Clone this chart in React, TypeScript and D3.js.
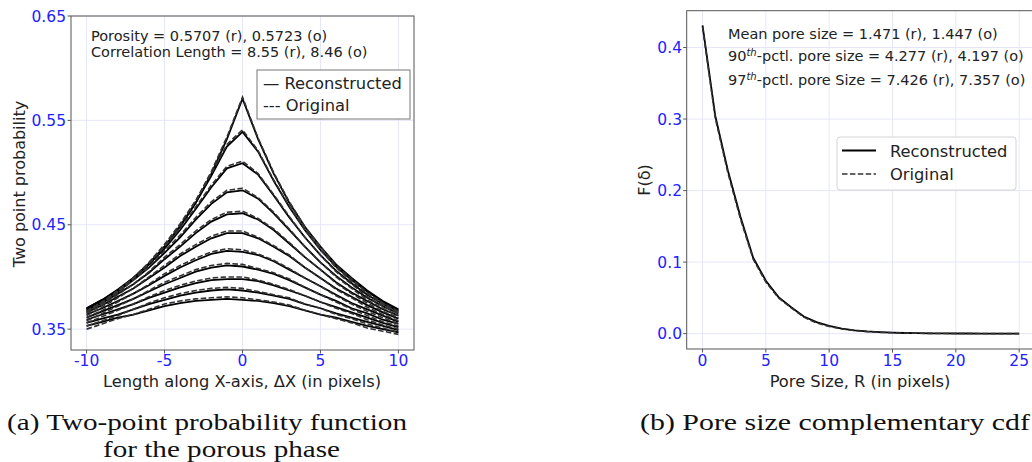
import React from 'react';
import * as d3 from 'd3';

// ---------- Data: (a) two-point probability ----------
const DX = [-10, -9, -8, -7, -6, -5, -4, -3, -2, -1, 0, 1, 2, 3, 4, 5, 6, 7, 8, 9, 10];

const S2_RECON: number[][] = [
  [0.369, 0.377, 0.387, 0.399, 0.412, 0.429, 0.448, 0.471, 0.499, 0.532, 0.5707, 0.532, 0.499, 0.471, 0.448, 0.429, 0.412, 0.399, 0.387, 0.377, 0.369],
  [0.370, 0.378, 0.388, 0.399, 0.413, 0.429, 0.449, 0.471, 0.497, 0.525, 0.539, 0.520, 0.492, 0.467, 0.445, 0.426, 0.410, 0.397, 0.386, 0.376, 0.368],
  [0.370, 0.378, 0.387, 0.399, 0.412, 0.427, 0.445, 0.465, 0.486, 0.504, 0.509, 0.498, 0.478, 0.457, 0.438, 0.421, 0.406, 0.394, 0.383, 0.374, 0.367],
  [0.369, 0.377, 0.386, 0.397, 0.409, 0.423, 0.438, 0.455, 0.470, 0.481, 0.483, 0.475, 0.461, 0.445, 0.429, 0.414, 0.401, 0.390, 0.380, 0.372, 0.365],
  [0.368, 0.375, 0.384, 0.393, 0.404, 0.417, 0.429, 0.442, 0.453, 0.460, 0.461, 0.455, 0.445, 0.432, 0.419, 0.407, 0.395, 0.385, 0.377, 0.369, 0.363],
  [0.366, 0.373, 0.381, 0.389, 0.399, 0.409, 0.420, 0.429, 0.437, 0.442, 0.442, 0.437, 0.429, 0.420, 0.409, 0.399, 0.389, 0.381, 0.373, 0.366, 0.360],
  [0.364, 0.370, 0.377, 0.384, 0.392, 0.401, 0.409, 0.416, 0.422, 0.425, 0.424, 0.421, 0.415, 0.407, 0.399, 0.391, 0.383, 0.375, 0.369, 0.363, 0.357],
  [0.361, 0.367, 0.373, 0.379, 0.386, 0.393, 0.399, 0.405, 0.409, 0.411, 0.410, 0.407, 0.403, 0.397, 0.390, 0.383, 0.377, 0.370, 0.365, 0.359, 0.355],
  [0.359, 0.364, 0.369, 0.374, 0.380, 0.385, 0.390, 0.394, 0.397, 0.398, 0.398, 0.396, 0.392, 0.387, 0.382, 0.376, 0.371, 0.366, 0.361, 0.356, 0.352],
  [0.356, 0.360, 0.364, 0.369, 0.374, 0.378, 0.382, 0.385, 0.387, 0.388, 0.387, 0.385, 0.382, 0.379, 0.374, 0.370, 0.365, 0.361, 0.357, 0.353, 0.349],
  [0.353, 0.357, 0.361, 0.364, 0.368, 0.372, 0.375, 0.377, 0.378, 0.379, 0.378, 0.377, 0.375, 0.372, 0.368, 0.364, 0.361, 0.357, 0.353, 0.350, 0.347],
];

const S2_ORIG: number[][] = [
  [0.367, 0.376, 0.386, 0.399, 0.413, 0.431, 0.450, 0.473, 0.501, 0.534, 0.5723, 0.533, 0.500, 0.472, 0.448, 0.429, 0.411, 0.398, 0.385, 0.375, 0.367],
  [0.367, 0.376, 0.387, 0.399, 0.414, 0.431, 0.451, 0.473, 0.499, 0.527, 0.541, 0.521, 0.493, 0.468, 0.445, 0.426, 0.409, 0.396, 0.384, 0.374, 0.366],
  [0.367, 0.376, 0.386, 0.399, 0.413, 0.429, 0.447, 0.467, 0.488, 0.506, 0.511, 0.499, 0.479, 0.458, 0.438, 0.421, 0.405, 0.393, 0.381, 0.372, 0.365],
  [0.366, 0.375, 0.385, 0.397, 0.410, 0.425, 0.440, 0.457, 0.472, 0.483, 0.485, 0.476, 0.462, 0.446, 0.429, 0.414, 0.400, 0.389, 0.378, 0.370, 0.363],
  [0.365, 0.373, 0.383, 0.393, 0.405, 0.419, 0.431, 0.444, 0.455, 0.462, 0.463, 0.456, 0.446, 0.433, 0.419, 0.407, 0.394, 0.384, 0.375, 0.367, 0.361],
  [0.363, 0.371, 0.380, 0.389, 0.400, 0.411, 0.422, 0.431, 0.439, 0.444, 0.444, 0.438, 0.430, 0.421, 0.409, 0.399, 0.388, 0.380, 0.371, 0.364, 0.358],
  [0.361, 0.368, 0.376, 0.384, 0.393, 0.403, 0.411, 0.418, 0.424, 0.427, 0.426, 0.422, 0.416, 0.408, 0.399, 0.391, 0.382, 0.374, 0.367, 0.361, 0.355],
  [0.358, 0.365, 0.372, 0.379, 0.387, 0.395, 0.401, 0.407, 0.411, 0.413, 0.412, 0.408, 0.404, 0.398, 0.390, 0.383, 0.376, 0.369, 0.363, 0.357, 0.353],
  [0.356, 0.362, 0.368, 0.374, 0.381, 0.387, 0.392, 0.396, 0.399, 0.400, 0.400, 0.397, 0.393, 0.388, 0.382, 0.376, 0.370, 0.365, 0.359, 0.354, 0.350],
  [0.353, 0.358, 0.363, 0.369, 0.375, 0.380, 0.384, 0.387, 0.389, 0.390, 0.389, 0.386, 0.383, 0.380, 0.374, 0.370, 0.364, 0.360, 0.355, 0.351, 0.347],
  [0.350, 0.355, 0.360, 0.364, 0.369, 0.374, 0.377, 0.379, 0.380, 0.381, 0.380, 0.378, 0.376, 0.373, 0.368, 0.364, 0.360, 0.356, 0.351, 0.348, 0.345],
];

const A_XTICKS = [-10, -5, 0, 5, 10];
const A_YTICKS = [0.35, 0.45, 0.55, 0.65];

// ---------- Data: (b) pore size complementary cdf ----------
const R = [0, 1, 2, 3, 4, 5, 6, 7, 8, 9, 10, 11, 12, 13, 14, 15, 16, 17, 18, 19, 20, 21, 22, 23, 24, 25];
const F_RECON = [0.431, 0.305, 0.228, 0.163, 0.106, 0.074, 0.051, 0.037, 0.024, 0.016, 0.011, 0.007, 0.0045, 0.003, 0.002, 0.0013, 0.0009, 0.0006, 0.0004, 0.0003, 0.0002, 0.00015, 0.0001, 0.00008, 0.00005, 0.00003];
const F_ORIG = [0.429, 0.302, 0.225, 0.160, 0.104, 0.072, 0.050, 0.036, 0.023, 0.015, 0.010, 0.0065, 0.0042, 0.0028, 0.0018, 0.0012, 0.0008, 0.0005, 0.0003, 0.0002, 0.00015, 0.0001, 0.00008, 0.00005, 0.00003, 0.00002];
const B_XTICKS = [0, 5, 10, 15, 20, 25];
const B_YTICKS = [0, 0.1, 0.2, 0.3, 0.4];

const FONT = 'DejaVu Sans, sans-serif';
const SERIF = 'Liberation Serif, DejaVu Serif, serif';
const TICK_BLUE = '#2222ff';
const GRID = '#e6e6fb';
const SPINE = '#555';

export default function App() {
  // panel (a) scales
  const ax = d3.scaleLinear().domain([-11, 11]).range([71, 414]);
  const ay = d3.scaleLinear().domain([0.33, 0.65]).range([350, 16]);
  // panel (b) scales
  const bx = d3.scaleLinear().domain([-1.25, 26.25]).range([686.7, 1035]);
  const by = d3.scaleLinear().domain([-0.0215, 0.4515]).range([349, 10.7]);

  const lineA = d3.line<number>().x((_, i) => ax(DX[i])).y((d) => ay(d));
  const lineB = d3.line<number>().x((_, i) => bx(R[i])).y((d) => by(d));

  return (
    <svg
      width={1032}
      height={462}
      style={{ position: 'absolute', left: 0, top: 0, background: '#fff' }}
      fontFamily={FONT}
    >
      <defs>
        <clipPath id="clipA">
          <rect x={71} y={16} width={343} height={334} />
        </clipPath>
        <clipPath id="clipB">
          <rect x={686.7} y={10.7} width={348.3} height={338.3} />
        </clipPath>
      </defs>

      {/* ================= Panel (a) ================= */}
      <g>
        {A_XTICKS.map((t) => (
          <line key={'agx' + t} x1={ax(t)} x2={ax(t)} y1={16} y2={350} stroke={GRID} strokeWidth={1} />
        ))}
        {A_YTICKS.map((t) => (
          <line key={'agy' + t} x1={71} x2={414} y1={ay(t)} y2={ay(t)} stroke={GRID} strokeWidth={1} />
        ))}
        <g clipPath="url(#clipA)">
          {S2_RECON.map((s, i) => (
            <path key={'ar' + i} d={lineA(s) || ''} fill="none" stroke="#000" strokeWidth={1.8} />
          ))}
          {S2_ORIG.map((s, i) => (
            <path key={'ao' + i} d={lineA(s) || ''} fill="none" stroke="#333" strokeWidth={1.6} strokeDasharray="5.5,2.4" />
          ))}
        </g>
        <rect x={71} y={16} width={343} height={334} fill="none" stroke={SPINE} strokeWidth={1} />
        {A_XTICKS.map((t) => (
          <g key={'axt' + t}>
            <line x1={ax(t)} x2={ax(t)} y1={350} y2={353.5} stroke={SPINE} />
            <text x={ax(t)} y={366} textAnchor="middle" fontSize={15.5} fill={TICK_BLUE}>
              {t}
            </text>
          </g>
        ))}
        {A_YTICKS.map((t) => (
          <g key={'ayt' + t}>
            <line x1={67.5} x2={71} y1={ay(t)} y2={ay(t)} stroke={SPINE} />
            <text x={66} y={ay(t) + 5.5} textAnchor="end" fontSize={15.5} fill={TICK_BLUE}>
              {d3.format('.2f')(t)}
            </text>
          </g>
        ))}
        <text x={242} y={386.5} textAnchor="middle" fontSize={16.3} fill="#222">
          Length along X-axis, ΔX (in pixels)
        </text>
        <text transform="translate(25,184) rotate(-90)" textAnchor="middle" fontSize={16} fill="#222">
          Two point probability
        </text>
        <text x={91} y={41} fontSize={14.5} fill="#222">
          Porosity = 0.5707 (r), 0.5723 (o)
        </text>
        <text x={91} y={57} fontSize={14.5} fill="#222">
          Correlation Length = 8.55 (r), 8.46 (o)
        </text>
        <rect x={257} y={70} width={153} height={49} fill="#fff" stroke="#777" strokeWidth={1} />
        <text x={263} y={89} fontSize={16.3} fill="#222">
          — Reconstructed
        </text>
        <text x={263} y={111} fontSize={16.3} fill="#222">
          --- Original
        </text>
      </g>

      {/* ================= Panel (b) ================= */}
      <g>
        {B_XTICKS.map((t) => (
          <line key={'bgx' + t} x1={bx(t)} x2={bx(t)} y1={10.7} y2={349} stroke={GRID} strokeWidth={1} />
        ))}
        {B_YTICKS.map((t) => (
          <line key={'bgy' + t} x1={686.7} x2={1035} y1={by(t)} y2={by(t)} stroke={GRID} strokeWidth={1} />
        ))}
        <g clipPath="url(#clipB)">
          <path d={lineB(F_RECON) || ''} fill="none" stroke="#000" strokeWidth={1.8} />
          <path d={lineB(F_ORIG) || ''} fill="none" stroke="#333" strokeWidth={1.6} strokeDasharray="5.5,2.4" />
        </g>
        <rect x={686.7} y={10.7} width={348.3} height={338.3} fill="none" stroke={SPINE} strokeWidth={1} />
        {B_XTICKS.map((t) => (
          <g key={'bxt' + t}>
            <line x1={bx(t)} x2={bx(t)} y1={349} y2={352.5} stroke={SPINE} />
            <text x={bx(t)} y={366} textAnchor="middle" fontSize={15.5} fill={TICK_BLUE}>
              {t}
            </text>
          </g>
        ))}
        {B_YTICKS.map((t) => (
          <g key={'byt' + t}>
            <line x1={683.2} x2={686.7} y1={by(t)} y2={by(t)} stroke={SPINE} />
            <text x={682} y={by(t) + 5.5} textAnchor="end" fontSize={15.5} fill={TICK_BLUE}>
              {d3.format('.1f')(t)}
            </text>
          </g>
        ))}
        <text x={860} y={386.5} textAnchor="middle" fontSize={16.3} fill="#222">
          Pore Size, R (in pixels)
        </text>
        <text transform="translate(650,180) rotate(-90)" textAnchor="middle" fontSize={16} fill="#222">
          F(δ)
        </text>
        <text x={728} y={39} fontSize={14.5} fill="#222">
          Mean pore size = 1.471 (r), 1.447 (o)
        </text>
        <text x={728} y={61} fontSize={14.5} fill="#222">
          90<tspan fontSize={10} fontStyle="italic" dy={-5.5}>th</tspan>
          <tspan dy={5.5}>-pctl. pore size = 4.277 (r), 4.197 (o)</tspan>
        </text>
        <text x={728} y={85} fontSize={14.5} fill="#222">
          97<tspan fontSize={10} fontStyle="italic" dy={-5.5}>th</tspan>
          <tspan dy={5.5}>-pctl. pore Size = 7.426 (r), 7.357 (o)</tspan>
        </text>
        <rect x={837} y={137} width={179} height={53} rx={3} fill="#fff" fillOpacity={0.85} stroke="#d4d4d4" strokeWidth={1} />
        <line x1={842} x2={876} y1={150.5} y2={150.5} stroke="#000" strokeWidth={1.8} />
        <line x1={842} x2={876} y1={174} y2={174} stroke="#333" strokeWidth={1.6} strokeDasharray="5.5,2.4" />
        <text x={890} y={156.5} fontSize={16.3} fill="#222">
          Reconstructed
        </text>
        <text x={890} y={180} fontSize={16.3} fill="#222">
          Original
        </text>
      </g>

      {/* ================= Captions ================= */}
      <text x={7} y={430} fontSize={23} fontFamily={SERIF} fill="#111" textLength={400} lengthAdjust="spacingAndGlyphs">
        (a) Two-point probability function
      </text>
      <text x={103} y={457} fontSize={23} fontFamily={SERIF} fill="#111" textLength={237} lengthAdjust="spacingAndGlyphs">
        for the porous phase
      </text>
      <text x={640} y={430} fontSize={23} fontFamily={SERIF} fill="#111" textLength={390} lengthAdjust="spacingAndGlyphs">
        (b) Pore size complementary cdf
      </text>
    </svg>
  );
}
